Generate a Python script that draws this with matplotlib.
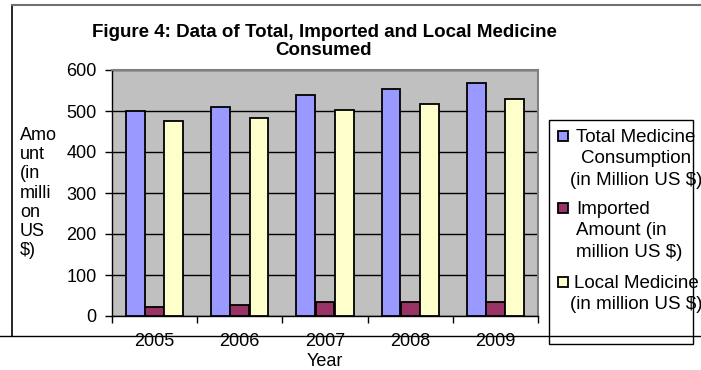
import matplotlib
matplotlib.use("Agg")
import matplotlib.pyplot as plt
from matplotlib.patches import Rectangle
from matplotlib.lines import Line2D
import numpy as np

plt.rcParams['font.family'] = ['Liberation Sans', 'DejaVu Sans']

years = ["2005", "2006", "2007", "2008", "2009"]
total = [500, 510, 538, 553, 569]
imported = [21, 26, 33, 33, 33]
local = [476, 484, 503, 518, 530]

series_labels = ["Total Medicine\nConsumption\n(in Million US $)",
                 "Imported\nAmount (in\nmillion US $)",
                 "Local Medicine\n(in million US $)"]
colors = ["#9999FF", "#993366", "#FFFFCC"]

W, H = 701, 370
fig = plt.figure(figsize=(W / 100, H / 100), dpi=100)


def fx(px):
    return px / W


def fy(py):
    return 1 - py / H


# outer chart border
fig.add_artist(Line2D([fx(11.5), fx(11.5)], [fy(5), fy(336)], transform=fig.transFigure, color="black", lw=1.2))
fig.add_artist(Line2D([fx(11.5), 1], [fy(5), fy(5)], transform=fig.transFigure, color="#707070", lw=1.5))
fig.add_artist(Line2D([0, 1], [fy(336), fy(336)], transform=fig.transFigure, color="black", lw=1))

ax = fig.add_axes([fx(112), fy(316), (538 - 112) / W, (316 - 70) / H])
ax.set_facecolor("#C0C0C0")

x = np.arange(len(years))
bw = 0.222
off = 0.225
for vals, c, dx in zip([total, imported, local], colors, [-off, 0, off]):
    ax.bar(x + dx, vals, width=bw, color=c, edgecolor="black", linewidth=1.3, zorder=3)

ax.set_ylim(0, 600)
ax.set_xlim(-0.5, len(years) - 0.5)
ax.set_yticks(np.arange(0, 601, 100))
ax.yaxis.grid(True, color="black", linewidth=1, zorder=1)
ax.set_axisbelow(True)
ax.tick_params(axis="y", direction="out", length=5, width=1, labelsize=13, pad=6)

ax.set_xticks(np.arange(-0.5, len(years), 1))
ax.set_xticklabels([])
ax.set_xticks(x, minor=True)
ax.set_xticklabels(years, minor=True)
ax.tick_params(axis="x", which="major", direction="out", length=5, width=1)
ax.tick_params(axis="x", which="minor", length=0, labelsize=13, pad=12)

for s in ["top", "right"]:
    ax.spines[s].set_color("#808080")
    ax.spines[s].set_linewidth(1.5)
ax.spines["left"].set_linewidth(1)
ax.spines["bottom"].set_linewidth(1)

fig.text(fx(324), fy(41.5), "Figure 4: Data of Total, Imported and Local Medicine\nConsumed",
         ha="center", va="center", fontsize=13.5, fontweight="bold", linespacing=1.1)

fig.text(fx(325), fy(362), "Year", ha="center", va="center", fontsize=13)

fig.text(fx(20), fy(193), "Amo\nunt\n(in\nmilli\non\nUS\n$)", ha="left", va="center",
         fontsize=13, linespacing=1.16)

# legend box
fig.add_artist(Rectangle((fx(549), fy(344)), (693 - 549) / W, (344 - 120) / H,
                         transform=fig.transFigure, facecolor="white", edgecolor="black", lw=1, zorder=1))
first_line_y = [136, 208, 282]
aligns = ["center", "left", "center"]
for lab, c, y0, al in zip(series_labels, colors, first_line_y, aligns):
    fig.add_artist(Rectangle((fx(558), fy(y0 + 5)), 10 / W, 10 / H, transform=fig.transFigure,
                             facecolor=c, edgecolor="black", lw=1.3, zorder=2))
    if al == "center":
        fig.text(fx(636), fy(y0 - 7), lab, ha="center", va="top", multialignment="center",
                 fontsize=13.5, linespacing=1.33, zorder=3)
    else:
        fig.text(fx(576), fy(y0 - 7), lab, ha="left", va="top", multialignment="left",
                 fontsize=13.5, linespacing=1.33, zorder=3)

fig.savefig("out.png", dpi=100)
